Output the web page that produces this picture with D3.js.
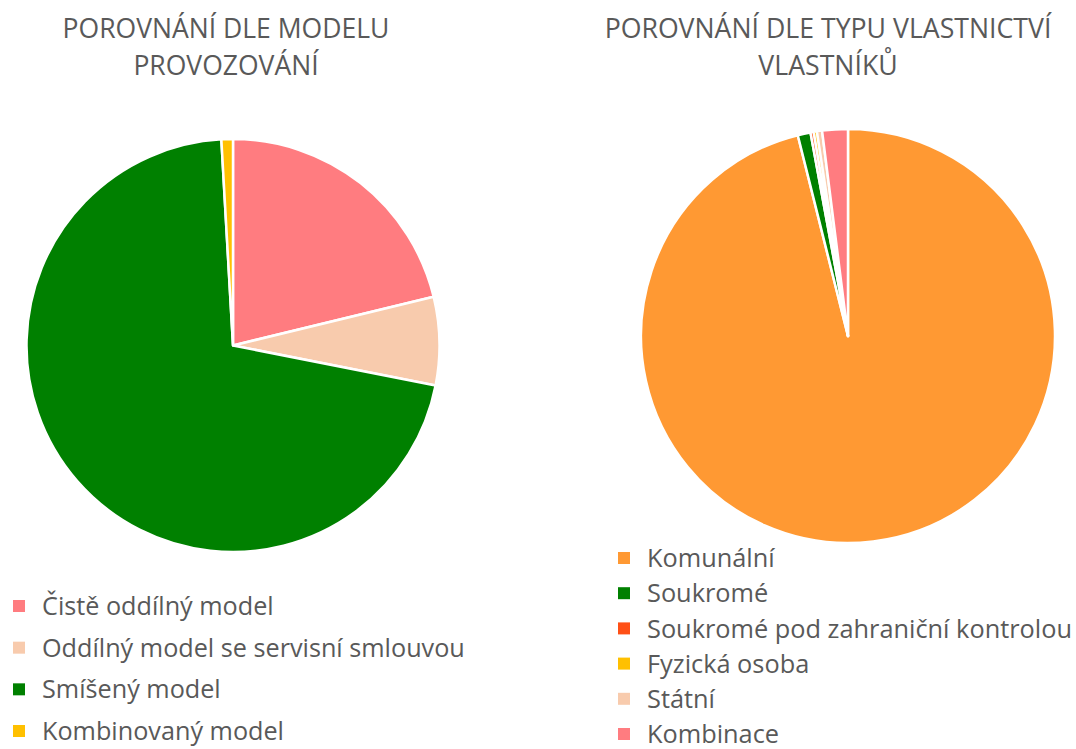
<!DOCTYPE html>
<html><head><meta charset="utf-8">
<script src="https://cdn.jsdelivr.net/npm/d3@7"></script>
<style>body{margin:0;background:#fff}svg{display:block}</style>
</head><body>
<svg id="c" width="1076" height="749"></svg>
<script>
// Data
const modelCategories = ["Čistě oddílný model","Oddílný model se servisní smlouvou","Smíšený model","Kombinovaný model"];
const modelValues = [21.2, 6.9, 71.0, 0.9];
const modelColors = ["#FF7C80","#F8CBAD","#008000","#FFC000"];
const modelTitle = ["POROVNÁNÍ DLE MODELU","PROVOZOVÁNÍ"];

const ownCategories = ["Komunální","Soukromé","Soukromé pod zahraniční kontrolou","Fyzická osoba","Státní","Kombinace"];
const ownValues = [96.1, 1.0, 0.25, 0.25, 0.4, 2.0];
const ownColors = ["#FF9933","#008000","#FF5016","#FFC000","#F8CBAD","#FF7C80"];
const ownTitle = ["POROVNÁNÍ DLE TYPU VLASTNICTVÍ","VLASTNÍKŮ"];

const svg = d3.select("#c");
const FONT = "'Open Sans', sans-serif";
const TXT = "#595959";

function fitText(sel, target){
  const w = sel.node().getComputedTextLength();
  const fs = parseFloat(sel.attr("font-size"));
  return fs * target / w;
}

function drawPie(cfg){
  const g = svg.append("g");
  // title
  const t = g.append("text").attr("font-family",FONT).attr("fill",TXT)
    .attr("text-anchor","middle").attr("font-size",24);
  t.text(cfg.title[0]).attr("x",cfg.titleX).attr("y",cfg.titleY[0]);
  const tfs = fitText(t, cfg.titleW);
  t.attr("font-size",tfs);
  g.append("text").attr("font-family",FONT).attr("fill",TXT)
    .attr("text-anchor","middle").attr("font-size",tfs)
    .attr("x",cfg.titleX).attr("y",cfg.titleY[1]).text(cfg.title[1]);

  const data = cfg.cats.map((c,i)=>({cat:c,value:cfg.vals[i],color:cfg.cols[i]}));
  const pie = d3.pie().sort(null).value(d=>d.value);
  const arc = d3.arc().innerRadius(0).outerRadius(cfg.r);
  g.append("g").attr("transform",`translate(${cfg.cx},${cfg.cy})`)
    .selectAll("path").data(pie(data)).join("path")
    .attr("d",arc).attr("fill",d=>d.data.color)
    .attr("stroke","#fff").attr("stroke-width",2.5).attr("stroke-linejoin","round");

  // legend
  const y = d3.scalePoint().domain(cfg.cats).range(cfg.legY);
  const lg = g.append("g");
  const items = lg.selectAll("g").data(data).join("g")
    .attr("transform",d=>`translate(0,${y(d.cat)})`);
  items.append("rect").attr("x",cfg.legX).attr("y",-6).attr("width",12).attr("height",12)
    .attr("fill",d=>d.color);
  const labels = items.append("text").attr("x",cfg.legX+29).attr("y",0).attr("dy","0.36em")
    .attr("font-family",FONT).attr("fill",TXT).attr("font-size",22).text(d=>d.cat);
  const longest = labels.filter((d,i)=>i===cfg.longIdx);
  const lfs = fitText(longest, cfg.longW);
  labels.attr("font-size",lfs);
}

drawPie({title:modelTitle, titleX:226, titleY:[38,75], titleW:327,
  cats:modelCategories, vals:modelValues, cols:modelColors,
  cx:233, cy:345.5, r:206.5,
  legX:13, legY:[606,731], longIdx:1, longW:423});

drawPie({title:ownTitle, titleX:828, titleY:[38,75], titleW:447,
  cats:ownCategories, vals:ownValues, cols:ownColors,
  cx:848, cy:336, r:207,
  legX:618, legY:[558,734], longIdx:2, longW:425});
</script>
</body></html>
